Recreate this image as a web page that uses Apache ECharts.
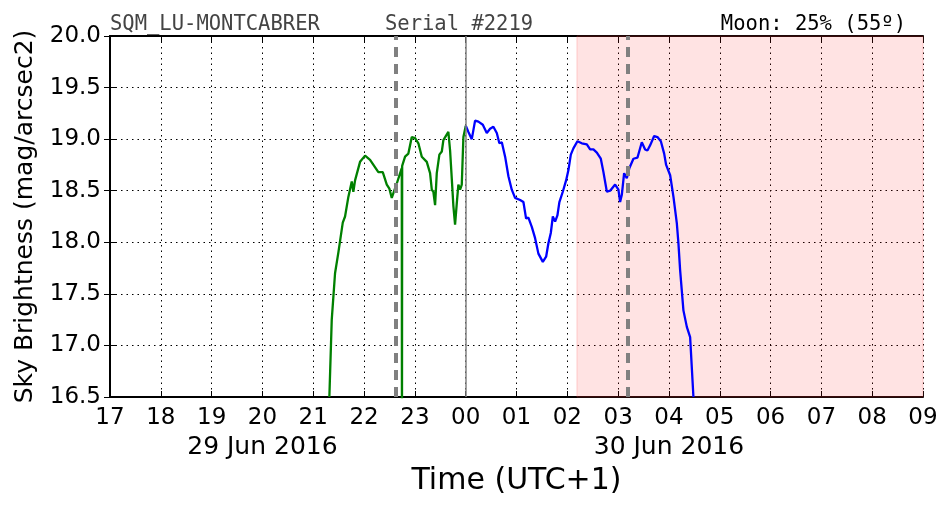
<!DOCTYPE html>
<html>
<head>
<meta charset="utf-8">
<script src="https://cdn.jsdelivr.net/npm/echarts@6/dist/echarts.min.js"></script>
<style>html,body{margin:0;padding:0;background:#fff}#c{width:952px;height:512px}</style>
</head>
<body>
<div id="c"></div>
<script>
// Hours after 17:00 on 29 Jun 2016 (UTC+1)
var xTickLabels = ['17','18','19','20','21','22','23','00','01','02','03','04','05','06','07','08','09'];
var dateLabels = {3: '29 Jun 2016', 11: '30 Jun 2016'};
var yTicks = [16.5, 17.0, 17.5, 18.0, 18.5, 19.0, 19.5, 20.0];

var greenTimes = [4.317,4.364,4.396,4.429,4.494,4.581,4.626,4.691,4.758,4.789,4.823,4.921,5.020,5.118,5.281,5.368,5.447,5.498,5.545,5.644,5.742,5.746,5.750,5.807,5.872,5.939,6.004,6.069,6.136,6.234,6.299,6.333,6.364,6.398,6.431,6.482,6.530,6.561,6.659,6.693,6.726,6.758,6.791,6.825,6.856,6.890,6.923,6.955,7.002];
var greenValues = [16.50,17.25,17.47,17.70,17.90,18.19,18.25,18.44,18.59,18.49,18.60,18.78,18.84,18.80,18.68,18.68,18.56,18.52,18.43,18.57,18.72,16.00,18.74,18.83,18.86,19.02,19.01,18.96,18.83,18.78,18.67,18.51,18.49,18.36,18.67,18.85,18.88,18.99,19.07,18.89,18.62,18.35,18.17,18.38,18.56,18.51,18.56,19.02,19.13];

var blueTimes = [7.002,7.053,7.120,7.185,7.250,7.337,7.415,7.480,7.545,7.612,7.663,7.711,7.776,7.841,7.907,7.972,8.071,8.136,8.189,8.234,8.301,8.366,8.431,8.518,8.583,8.628,8.675,8.715,8.760,8.805,8.844,8.911,8.976,9.022,9.069,9.120,9.199,9.285,9.384,9.449,9.514,9.581,9.659,9.711,9.778,9.843,9.941,10.006,10.039,10.073,10.118,10.171,10.222,10.301,10.380,10.466,10.531,10.577,10.630,10.709,10.774,10.841,10.906,10.945,11.024,11.089,11.156,11.187,11.220,11.285,11.352,11.417,11.482];
var blueValues = [19.13,19.07,19.00,19.18,19.17,19.14,19.06,19.10,19.12,19.06,18.96,18.97,18.83,18.64,18.51,18.43,18.41,18.39,18.23,18.24,18.15,18.04,17.89,17.81,17.86,17.99,18.09,18.25,18.20,18.26,18.39,18.49,18.60,18.70,18.85,18.91,18.98,18.96,18.95,18.90,18.90,18.87,18.81,18.68,18.49,18.50,18.56,18.51,18.39,18.46,18.67,18.62,18.72,18.81,18.82,18.97,18.90,18.89,18.94,19.03,19.02,18.98,18.86,18.75,18.65,18.44,18.18,17.99,17.73,17.34,17.18,17.08,16.50];

var moonLines = [5.624, 10.18];   // dashed grey markers
var midnight = 7.0;
var pinkStart = 9.19, pinkEnd = 16;

function pairs(t, v){ return t.map(function(x,i){ return [x, v[i]]; }); }

var chart = echarts.init(document.getElementById('c'), null, {renderer:'canvas'});
var gridLine = {show:true, lineStyle:{color:'#000', width:1, type:[1.5,4]}};
var tickIn = {show:true, inside:true, length:6, lineStyle:{color:'#000', width:1}};
var axLine = {show:true, lineStyle:{color:'#000', width:2}};

chart.setOption({
  animation:false,
  grid:{left:110, right:29, top:36, bottom:115},
  xAxis:[{
    type:'value', min:0, max:16, interval:1,
    axisLine:axLine, axisTick:tickIn, splitLine:gridLine,
    axisLabel:{
      margin:8, color:'#000',
      formatter:function(v){ var i=Math.round(v); var s='{t|'+xTickLabels[i]+'}'; return dateLabels[i] ? s+'\n{d|'+dateLabels[i]+'}' : s; },
      rich:{
        t:{fontFamily:'DejaVu Sans', fontSize:23, lineHeight:26, color:'#000'},
        d:{fontFamily:'DejaVu Sans', fontSize:25, lineHeight:32, color:'#000'}
      }
    },
    name:'Time (UTC+1)', nameLocation:'middle', nameGap:69,
    nameTextStyle:{fontFamily:'DejaVu Sans', fontSize:30, color:'#000'}
  },{
    type:'value', position:'top', min:0, max:16, interval:1,
    axisLine:axLine, axisTick:tickIn, axisLabel:{show:false}, splitLine:{show:false}
  }],
  yAxis:[{
    type:'value', min:16.5, max:20, interval:0.5,
    axisLine:axLine, axisTick:tickIn, splitLine:gridLine,
    axisLabel:{margin:9, fontFamily:'DejaVu Sans', fontSize:23, color:'#000', formatter:function(v){return v.toFixed(1);}},
    name:'Sky Brightness (mag/arcsec2)', nameLocation:'middle', nameGap:72,
    nameTextStyle:{fontFamily:'DejaVu Sans', fontSize:25, color:'#000'}
  },{
    type:'value', position:'right', min:16.5, max:20, interval:0.5,
    axisLine:axLine, axisTick:tickIn, axisLabel:{show:false}, splitLine:{show:false}
  }],
  series:[{
    type:'line', data:pairs(greenTimes, greenValues), showSymbol:false, symbol:'none',
    lineStyle:{color:'#008000', width:2.3}, clip:true, z:3,
    markArea:{silent:true, itemStyle:{color:'rgba(255,0,0,0.11)', borderColor:'rgba(255,80,80,0.25)', borderWidth:1},
      data:[[{xAxis:pinkStart},{xAxis:pinkEnd}]]},
    markLine:{silent:true, symbol:'none', label:{show:false},
      data:[
        {xAxis:moonLines[0], lineStyle:{color:'#808080', width:4, type:[10,7]}},
        {xAxis:moonLines[1], lineStyle:{color:'#808080', width:4, type:[10,7]}},
        {xAxis:midnight, lineStyle:{color:'#808080', width:1.5, type:'solid'}}
      ]}
  },{
    type:'line', data:pairs(blueTimes, blueValues), showSymbol:false, symbol:'none',
    lineStyle:{color:'#0000ff', width:2.3}, clip:true, z:3
  }],
  graphic:[
    {type:'text', left:110, top:14, style:{text:'SQM_LU-MONTCABRER', font:'20.5px "DejaVu Sans Mono"', fill:'#444'}},
    {type:'text', left:385, top:14, style:{text:'Serial #2219', font:'20.5px "DejaVu Sans Mono"', fill:'#444'}},
    {type:'text', right:46, top:14, style:{text:'Moon: 25% (55º)', font:'20.5px "DejaVu Sans Mono"', fill:'#000'}}
  ]
});
</script>
</body>
</html>
